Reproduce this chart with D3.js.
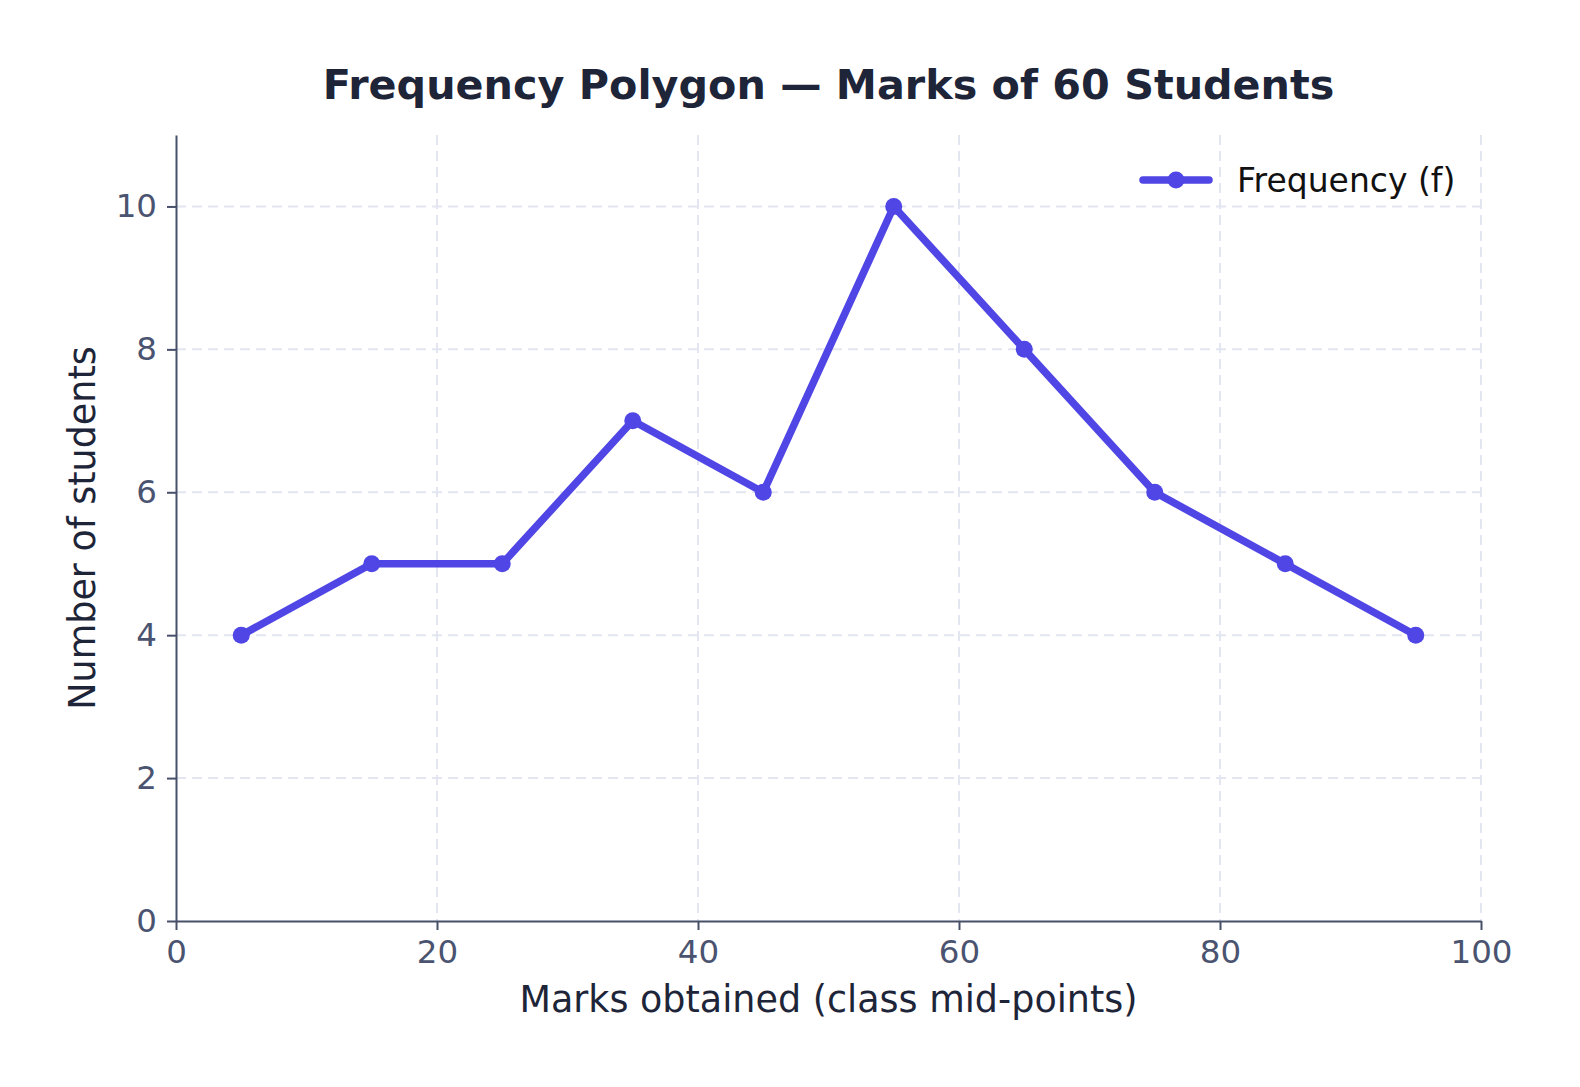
<!DOCTYPE html>
<html>
<head>
<meta charset="utf-8">
<script src="https://cdn.jsdelivr.net/npm/d3@7"></script>
<style>
  body { margin: 0; background: #fff; }
  text { font-family: "DejaVu Sans", sans-serif; }
</style>
</head>
<body>
<svg id="chart"></svg>
<script>
// class mid-points and frequencies
var midPoints = [5, 15, 25, 35, 45, 55, 65, 75, 85, 95];
var frequency = [4, 5, 5, 7, 6, 10, 8, 6, 5, 4];
var xTicks = [0, 20, 40, 60, 80, 100];
var yTicks = [0, 2, 4, 6, 8, 10];

var outerWidth = 1580, outerHeight = 1087;
var margins = {left: 176, right: 99, top: 135, bottom: 166};
var innerWidth = outerWidth - margins.left - margins.right;
var innerHeight = outerHeight - margins.top - margins.bottom;

var lineColor = "#4f46e5",
    axisColor = "#475069",
    gridColor = "#e3e6f1",
    darkText = "#1e2538";

var svg = d3.select("svg#chart")
    .attr("width", outerWidth)
    .attr("height", outerHeight);

var plot = svg.append("g")
    .attr("transform", "translate(" + margins.left + "," + margins.top + ")");

var xScale = d3.scaleLinear().domain([0, 100]).range([0, innerWidth]),
    yScale = d3.scaleLinear().domain([0, 11]).range([innerHeight, 0]);

// grid
plot.append("g").selectAll("line")
    .data(xTicks.filter(d => d > 0))
    .join("line")
    .attr("x1", d => xScale(d)).attr("x2", d => xScale(d))
    .attr("y1", 0).attr("y2", innerHeight)
    .attr("stroke", gridColor).attr("stroke-width", 2)
    .attr("stroke-dasharray", "10,6");

plot.append("g").selectAll("line")
    .data(yTicks.filter(d => d > 0))
    .join("line")
    .attr("x1", 0).attr("x2", innerWidth)
    .attr("y1", d => yScale(d)).attr("y2", d => yScale(d))
    .attr("stroke", gridColor).attr("stroke-width", 2)
    .attr("stroke-dasharray", "10,6");

// axes
var xAxis = plot.append("g")
    .attr("transform", "translate(0," + innerHeight + ")")
    .call(d3.axisBottom(xScale).tickValues(xTicks).tickSize(9).tickPadding(10).tickSizeOuter(0));

var yAxis = plot.append("g")
    .call(d3.axisLeft(yScale).tickValues(yTicks).tickSize(9).tickPadding(10).tickSizeOuter(0));

[xAxis, yAxis].forEach(function(ax) {
    ax.attr("font-size", null).attr("font-family", null);
    ax.select(".domain").attr("stroke", axisColor).attr("stroke-width", 2);
    ax.selectAll(".tick line").attr("stroke", axisColor).attr("stroke-width", 2);
    ax.selectAll(".tick text")
        .attr("fill", "#4a5370")
        .attr("font-size", "32.5px");
});

// polygon
var line = d3.line()
    .x((d, i) => xScale(midPoints[i]))
    .y(d => yScale(d));

plot.append("path")
    .datum(frequency)
    .attr("d", line)
    .attr("fill", "none")
    .attr("stroke", lineColor)
    .attr("stroke-width", 7.5)
    .attr("stroke-linejoin", "round")
    .attr("stroke-linecap", "round");

plot.selectAll(".point")
    .data(frequency)
    .join("circle")
    .attr("class", "point")
    .attr("cx", (d, i) => xScale(midPoints[i]))
    .attr("cy", d => yScale(d))
    .attr("r", 8.5)
    .attr("fill", lineColor);

// title and labels
svg.append("text")
    .attr("x", margins.left + innerWidth / 2)
    .attr("y", 99)
    .attr("text-anchor", "middle")
    .attr("font-size", "41.3px")
    .attr("font-weight", "bold")
    .attr("fill", darkText)
    .text("Frequency Polygon \u2014 Marks of 60 Students");

svg.append("text")
    .attr("x", margins.left + innerWidth / 2)
    .attr("y", 1012)
    .attr("text-anchor", "middle")
    .attr("font-size", "36.5px")
    .attr("fill", darkText)
    .text("Marks obtained (class mid-points)");

svg.append("text")
    .attr("transform", "translate(95," + (margins.top + innerHeight / 2) + ") rotate(-90)")
    .attr("text-anchor", "middle")
    .attr("font-size", "36.5px")
    .attr("fill", darkText)
    .text("Number of students");

// legend
var legend = svg.append("g").attr("transform", "translate(1143,180)");
legend.append("line")
    .attr("x1", 0).attr("x2", 66)
    .attr("y1", 0).attr("y2", 0)
    .attr("stroke", lineColor).attr("stroke-width", 7.5)
    .attr("stroke-linecap", "round");
legend.append("circle")
    .attr("cx", 33).attr("cy", 0).attr("r", 8.5)
    .attr("fill", lineColor);
legend.append("text")
    .attr("x", 94).attr("y", 12)
    .attr("font-size", "33px")
    .attr("fill", "#111")
    .text("Frequency (f)");
</script>
</body>
</html>
